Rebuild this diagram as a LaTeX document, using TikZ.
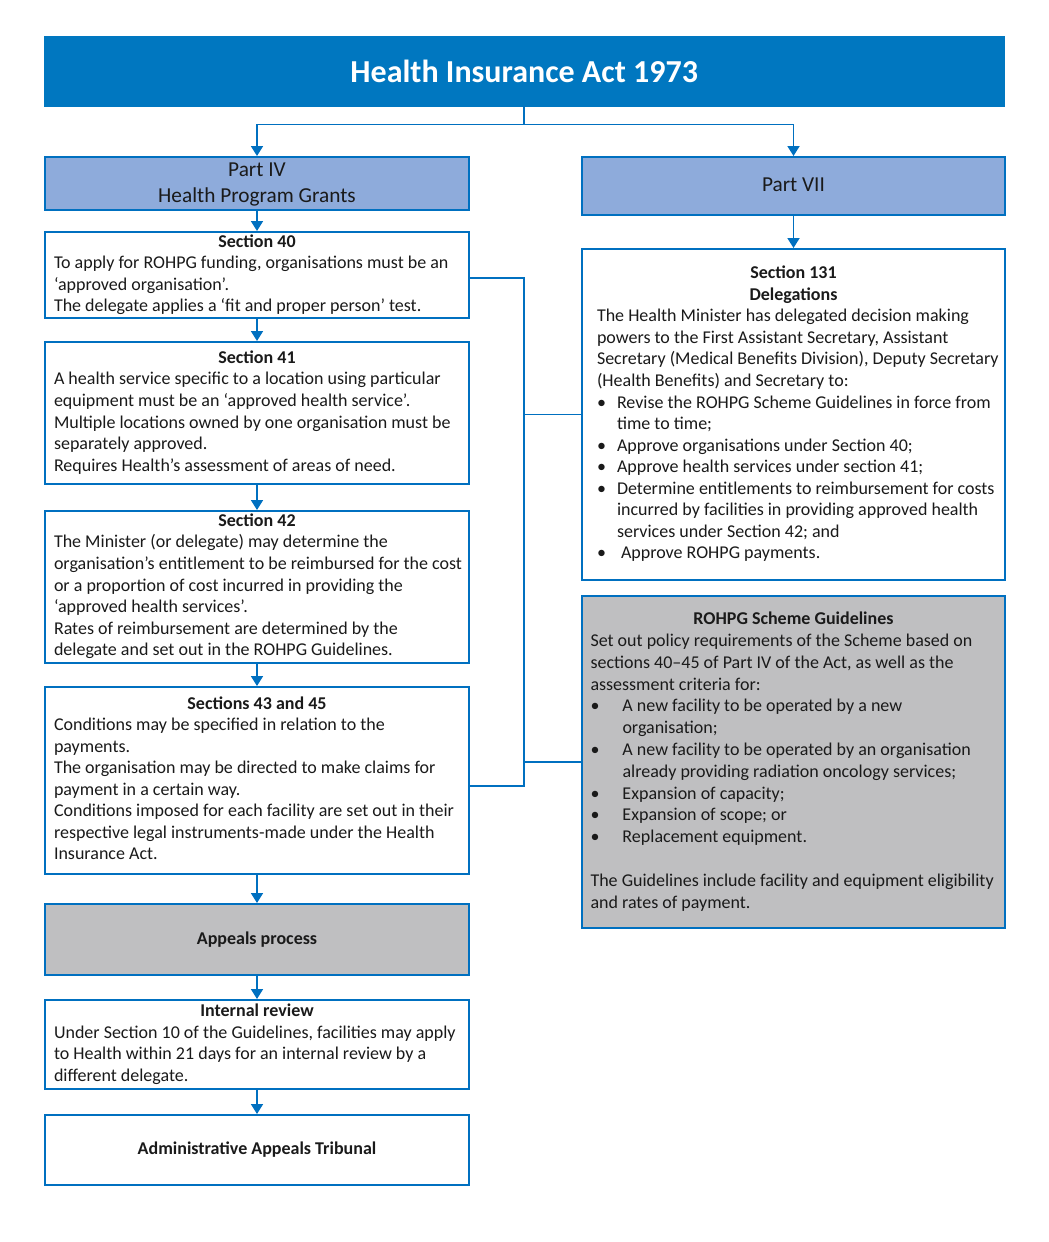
\documentclass[tikz,border=0pt]{standalone}
\usepackage{fontspec}
\setmainfont{Carlito}
\usepackage{tikz}
\usetikzlibrary{arrows.meta}

\definecolor{hdrblue}{HTML}{0077C0}
\definecolor{lineblue}{HTML}{0070C0}
\definecolor{partblue}{HTML}{8EABDB}
\definecolor{boxgray}{HTML}{BFBFC1}
\definecolor{txt}{HTML}{1A1A1A}

% centred heading line, bullet and hanging indent
\newcommand{\head}[1]{\hspace*{-\leftskip}\hspace*{\fill}\textbf{#1}\hspace*{\fill}\null}
\newcommand{\itm}[1][20pt]{\makebox[#1][l]{\textbullet}}
\newcommand{\cnt}[1][20pt]{\hspace*{#1}}

\begin{document}
\begin{tikzpicture}[x=1pt, y=-1pt,
    base/.style={draw=lineblue, line width=2pt, text=txt, anchor=north west, inner ysep=0pt},
    textbox/.style 2 args={base, inner xsep=1pt, text width=#1, align=left,
        font=\fontsize{18}{21.55}\selectfont,
        execute at begin node={\spaceskip=0pt\xspaceskip=0pt\leftskip=#2\strut},
        execute at end node=\strut},
    partbox/.style={base, fill=partblue, inner xsep=0pt, text width=#1, align=flush center,
        font=\fontsize{21.3}{26}\selectfont,
        execute at begin node=\rule{0pt}{19.5pt},
        execute at end node=\strut},
    plainbox/.style={base, align=center, minimum width=424pt,
        font=\fontsize{18}{21.55}\selectfont\bfseries},
    link/.style={draw=lineblue, line width=1.8pt, -{Triangle[width=12pt,length=10pt]}},
    wire/.style={draw=lineblue, line width=1.8pt}]

    \path[use as bounding box, fill=white] (0,0) rectangle (1049,1242);

    % act and parts
    \node[draw=hdrblue, fill=hdrblue, text=white, anchor=north west, minimum width=960pt,
        minimum height=70pt, font=\fontsize{32}{38}\selectfont\bfseries] (title) at (44,36)
        {Health Insurance Act 1973};
    \node[partbox=424pt, minimum height=53pt] (part4) at (44,156)
        {Part IV\\Health Program Grants};
    \node[partbox=423pt, minimum height=58pt] (part7) at (581,156) {Part VII};

    % part IV column
    \node[textbox={422pt}{8pt}, minimum height=85pt] (s40) at (44,231) {\head{Section 40}\\
        To apply for ROHPG funding, organisations must be an\\
        ‘approved organisation’.\\
        The delegate applies a ‘fit and proper person’ test.};
    \node[textbox={422pt}{8pt}, minimum height=142pt] (s41) at (44,341) {\head{Section 41}\\
        A health service specific to a location using particular\\
        equipment must be an ‘approved health service’.\\
        Multiple locations owned by one organisation must be\\
        separately approved.\\
        Requires Health’s assessment of areas of need.};
    \node[textbox={422pt}{8pt}, minimum height=151.5pt] (s42) at (44,510) {\head{Section 42}\\
        The Minister (or delegate) may determine the\\
        organisation’s entitlement to be reimbursed for the cost\\
        or a proportion of cost incurred in providing the\\
        ‘approved health services’.\\
        Rates of reimbursement are determined by the\\
        delegate and set out in the ROHPG Guidelines.};
    \node[textbox={422pt}{8pt}, minimum height=186.5pt] (s43) at (44,686) {\head{Sections 43 and 45}\\
        Conditions may be specified in relation to the\\
        payments.\\
        The organisation may be directed to make claims for\\
        payment in a certain way.\\
        Conditions imposed for each facility are set out in their\\
        respective legal instruments-made under the Health\\
        Insurance Act.};
    \node[plainbox, fill=boxgray, minimum height=71pt] (appeals) at (44,903) {Appeals process};
    \node[textbox={422pt}{8pt}, minimum height=89pt] (review) at (44,999) {\head{Internal review}\\
        Under Section 10 of the Guidelines, facilities may apply\\
        to Health within 21 days for an internal review by a\\
        different delegate.};
    \node[plainbox, minimum height=70pt] (aat) at (44,1114) {Administrative Appeals Tribunal};

    % part VII column
    \node[textbox={421pt}{14pt}, minimum height=331pt] (s131) at (581,248) {\head{Section 131}\\
        \head{Delegations}\\
        The Health Minister has delegated decision making\\
        powers to the First Assistant Secretary, Assistant\\
        Secretary (Medical Benefits Division), Deputy Secretary\\
        (Health Benefits) and Secretary to:\\
        \itm Revise the ROHPG Scheme Guidelines in force from\\
        \cnt time to time;\\
        \itm Approve organisations under Section 40;\\
        \itm Approve health services under section 41;\\
        \itm Determine entitlements to reimbursement for costs\\
        \cnt incurred by facilities in providing approved health\\
        \cnt services under Section 42; and\\
        \itm\hspace{4pt}Approve ROHPG payments.};
    \node[textbox={421pt}{7.5pt}, fill=boxgray, minimum height=332pt,
        font=\fontsize{18}{21.8}\selectfont] (guide) at (581,595) {\head{ROHPG Scheme Guidelines}\\
        Set out policy requirements of the Scheme based on\\
        sections 40–45 of Part IV of the Act, as well as the\\
        assessment criteria for:\\
        \itm[32pt]A new facility to be operated by a new\\
        \cnt[32pt]organisation;\\
        \itm[32pt]A new facility to be operated by an organisation\\
        \cnt[32pt]already providing radiation oncology services;\\
        \itm[32pt]Expansion of capacity;\\
        \itm[32pt]Expansion of scope; or\\
        \itm[32pt]Replacement equipment.\\[21.8pt]
        The Guidelines include facility and equipment eligibility\\
        and rates of payment.};

    % arrows
    \draw[link] (title.south) -- ++(0,18) -| (part4.north);
    \draw[link] (title.south) -- ++(0,18) -| (part7.north);
    \draw[link] (part4.south) -- (s40.north);
    \draw[link] (s40.south) -- (s41.north);
    \draw[link] (s41.south) -- (s42.north);
    \draw[link] (s42.south) -- (s43.north);
    \draw[link] (s43.south) -- (appeals.north);
    \draw[link] (appeals.south) -- (review.north);
    \draw[link] (review.south) -- (aat.north);
    \draw[link] (part7.south) -- (s131.north);

    % bracket from sections 40-45 to part VII
    \coordinate (s40r) at ([yshift=-2.5pt]s40.east);
    \coordinate (s43r) at ([yshift=-5.5pt]s43.east);
    \draw[wire] (s40r) -| (title.south |- s43r) -- (s43r);
    \draw[wire] (s131.west) -- (s131.west -| title.south);
    \draw[wire] (guide.west) -- (guide.west -| title.south);

\end{tikzpicture}
\end{document}
